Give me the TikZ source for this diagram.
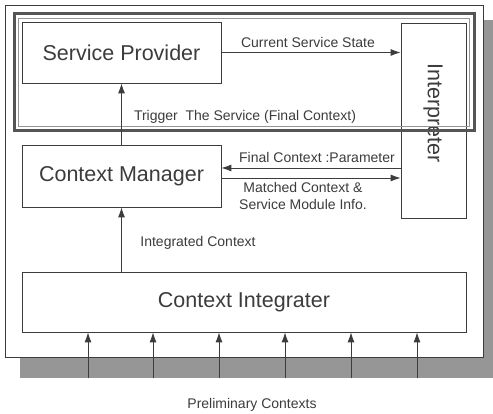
\documentclass[tikz,border=0pt]{standalone}
\usepackage{fontspec}
\setmainfont{Liberation Sans}
\usetikzlibrary{arrows.meta}
\definecolor{ink}{RGB}{60,60,60}
\definecolor{shadowgray}{RGB}{150,150,150}
\definecolor{framegray}{RGB}{85,85,85}
\tikzset{
  bigbox/.style={draw=ink, line width=0.8pt, fill=white, inner sep=0pt, text=ink, font=\fontsize{21.5}{24}\selectfont},
  lbl/.style={text=ink, font=\fontsize{14}{16.5}\selectfont, inner sep=0pt, align=center},
  arr/.style={draw=ink, line width=0.9pt, -{Latex[length=10pt,width=7pt]}}
}
\begin{document}
\begin{tikzpicture}[x=1pt,y=-1pt]
\useasboundingbox (0,0) rectangle (493,414);
\fill[white] (0,0) rectangle (493,414);
% shadow and outer panel
\fill[shadowgray] (20,20) rectangle (493,378);
\draw[ink, line width=0.8pt, fill=white] (5,5) rectangle (483,357);
% nodes
\node[bigbox, minimum width=199pt, minimum height=61pt] (sp) at (121.5,52.5) {Service Provider};
\node[bigbox, minimum width=199pt, minimum height=62pt] (cm) at (121.5,176) {Context Manager};
\node[bigbox, minimum width=444pt, minimum height=60pt] (ci) at (244,302) {Context Integrater};
\node[bigbox, minimum width=65pt, minimum height=195pt] (ip) at (433.5,120.5) {};
\node[text=ink, font=\fontsize{21.5}{24}\selectfont, rotate=-90, inner sep=0pt] (iptext) at (433,113) {Interpreter};
% highlight frame
\draw[framegray, line width=3pt] (14,14) rectangle (474,131);
\draw[shadowgray, line width=1pt] (18.5,18.5) rectangle (469.5,126.5);
% connectors
\draw[arr] (sp.east) -- (sp.east -| ip.west);
\draw[arr] (cm.north) -- (sp.south);
\draw[arr] ([yshift=8pt]cm.east -| ip.west) -- ([yshift=8pt]cm.east);
\draw[arr] ([yshift=-2pt]cm.east) -- ([yshift=-2pt]cm.east -| ip.west);
\draw[arr] (cm.south |- ci.north) -- (cm.south);
\foreach \i/\x in {1/88,2/153,3/219,4/285,5/351,6/417}{
  \coordinate (p\i) at (\x,378);
  \draw[arr] (p\i) -- (p\i |- ci.south);
}
% labels
\node[lbl] (l1) at (308,42) {Current Service State};
\node[lbl] (l2) at (245,117) {Trigger\ \ The Service (Final Context)};
\node[lbl] (l3) at (317,157) {Final Context :Parameter};
\node[lbl] (l4) at (303,196) {Matched Context \&\\Service Module Info.};
\node[lbl] (l5) at (198,243) {Integrated Context};
\node[lbl] (l6) at (252,405) {Preliminary Contexts};
\end{tikzpicture}
\end{document}
